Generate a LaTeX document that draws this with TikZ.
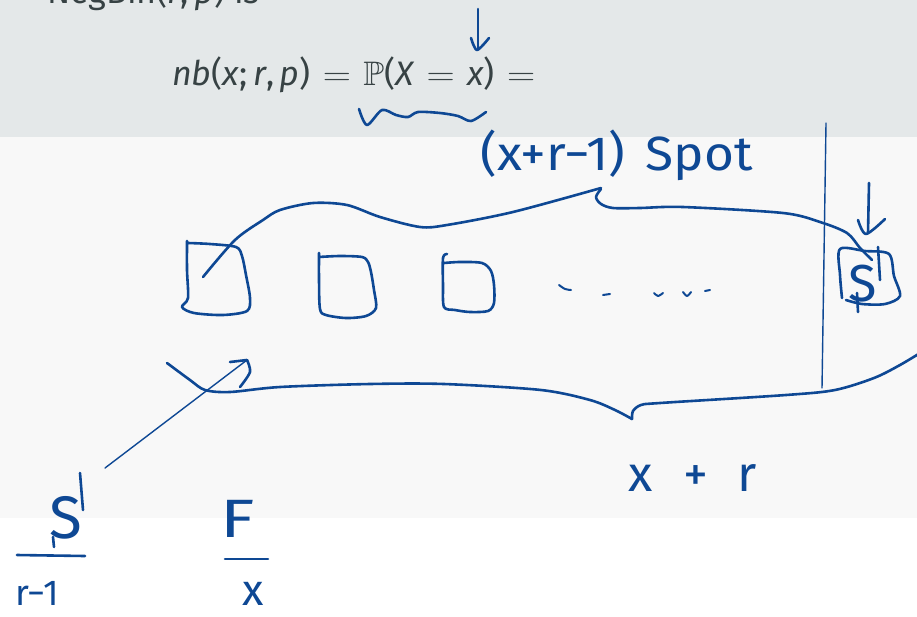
\RequirePackage{fix-cm}
\documentclass[tikz,border=0pt]{standalone}
\usepackage{amssymb}
\usepackage{graphicx}
\usepackage{fontspec}
\setmainfont{Fira Sans}
\newfontfamily\handfont{Fira Sans}
\usepackage{xcolor}
\definecolor{penblue}{RGB}{14,72,148}
\definecolor{slidetxt}{RGB}{55,66,68}
\definecolor{blockbg}{RGB}{228,232,233}
\definecolor{framebg}{RGB}{248,248,248}
\usepackage{tikz}
\usetikzlibrary{positioning}
% wide equals sign as on the slide
\newcommand{\slideeq}{\hspace{0.36em}\scalebox{1.15}[1.0]{$=$}\hspace{0.36em}}

\begin{document}
\begin{tikzpicture}[x=1pt,y=-1pt,
  pen/.style={penblue,line width=2.6pt,line cap=round,line join=round},
  thinpen/.style={penblue,line width=1.4pt,line cap=round},
  hand/.style={text=penblue,inner sep=0pt},
  slide/.style={text=slidetxt,inner sep=0pt,font={\fontsize{34}{40}\selectfont}}]
  \clip (0,0) rectangle (917,616);
  % slide background: block on top, frame below
  \fill[white] (0,0) rectangle (917,616);
  \fill[framebg] (0,137) rectangle (917,518);
  \fill[blockbg] (0,0) rectangle (917,137);

  % slide text (first line is cut off at the top)
  \node[slide,anchor=base west] (negbin) at (47,3) {NegBin(\textit{r},\,\textit{p}) is};
  \node[slide,anchor=base west] (nbdef) at (172,85)
    {\textit{nb}(\textit{x};\,\textit{r},\,\textit{p})\slideeq$\mathbb{P}$(\textit{X}\slideeq\textit{x})\slideeq};

  % pen marks on the formula
  \draw[pen] (478,9) -- (478,49);
  \draw[pen] plot[smooth] coordinates {(471,38) (477,50) (489,38)};
  \draw[pen] plot[smooth] coordinates {(359,109) (367,125) (382,110) (396,115) (408,117)
    (418,112) (440,113) (458,116) (471,121) (486,112)};

  % the spots
  \draw[pen] plot[smooth] coordinates {(187,241) (187,270) (188,298) (182,307) (194,313)
    (223,315) (247,311) (250,298) (246,275) (242,256) (236,247) (210,244) (188,243)};
  \draw[pen] plot[smooth] coordinates {(319,253) (319,280) (320,309) (326,315) (346,318)
    (366,316) (376,308) (374,290) (371,272) (368,262) (362,257) (340,256) (319,257)};
  \draw[pen] plot[smooth] coordinates {(447,254) (443,258) (443,285) (444,307) (455,310)
    (470,312) (488,311) (494,303) (494,285) (491,271) (482,263) (460,262) (444,263)};
  % dots
  \draw[pen,line width=2pt] plot[smooth] coordinates {(559,285) (565,289) (571,290)};
  \draw[pen,line width=2pt] (603,295) -- (610,294);
  \draw[pen,line width=2pt] plot[smooth] coordinates {(654,293) (658,296) (663,293)};
  \draw[pen,line width=2pt] plot[smooth] coordinates {(683,292) (687,296) (691,292)};
  \draw[pen,line width=2pt] (705,291) -- (710,290);

  % last spot: success
  \draw[thinpen] (826,123) -- (822,388);
  \draw[pen] (869,183) -- (868,233);
  \draw[pen] plot[smooth] coordinates {(858,220) (866,234) (885,219)};
  \draw[pen] plot[smooth] coordinates {(842,298) (840,275) (840,249) (865,251) (889,254)
    (894,276) (900,296) (885,304) (862,304) (846,300)};
  \node[hand,font={\handfont\fontsize{52}{56}\selectfont}] (lastS) at (863,284) {S};
  \draw[pen] (878,247) -- (880,280);
  \draw[pen] (857,293) -- (858,312);

  % top brace
  \draw[pen] plot[smooth] coordinates {(203,277) (235,240) (263,220) (280,210) (313,203)
    (347,205) (380,217) (420,227) (447,225) (513,212) (601,188)};
  \draw[pen] plot[smooth] coordinates {(601,189) (596,197) (601,204) (613,208) (640,208)
    (683,207) (783,213) (820,222) (847,233) (860,248) (872,260)};
  \node[hand,font={\handfont\fontsize{48}{52}\selectfont},xscale=1.07] (spots) at (617,155)
    {(x+r−1)\hspace{0.4em}Spot};

  % bottom brace
  \draw[pen] plot[smooth] coordinates {(167,363) (190,380) (205,390) (230,392) (280,387)
    (370,384) (444,384) (541,390) (590,400) (615,410) (632,419)};
  \draw[pen] plot[smooth] coordinates {(632,419) (633,411) (641,405) (660,403) (786,395)
    (835,390) (874,378) (900,365) (925,350)};
  \node[hand,font={\handfont\fontsize{50}{54}\selectfont}] (total) at (693,478)
    {x\hspace{0.6em}+\hspace{0.6em}r};

  % arrow from S/(r-1) into the first spots
  \coordinate (arrTail) at (105,468);
  \coordinate (arrTip) at (247,360);
  \draw[thinpen] (arrTail) -- (arrTip);
  \draw[pen] (230,362) -- (arrTip);
  \draw[pen] plot[smooth] coordinates {(247,360) (250,372) (240,387)};

  % S over r-1
  \node[hand,font={\handfont\fontsize{60}{64}\selectfont}] (numS) at (66,518) {S};
  \draw[pen] (80,473) -- (83,510);
  \draw[pen] (53,537) -- (54,547);
  \draw[pen] (17,555) -- (85,556);
  \node[hand,font={\handfont\fontsize{36}{40}\selectfont}] (denS) at (37,593) {r−1};

  % F over x
  \node[hand,font={\handfont\fontsize{54}{58}\selectfont},xscale=1.3] (numF) at (238,519) {F};
  \draw[pen] (225,559) -- (268,559);
  \node[hand,font={\handfont\fontsize{44}{48}\selectfont}] (denF) at (253,594) {x};
\end{tikzpicture}
\end{document}
